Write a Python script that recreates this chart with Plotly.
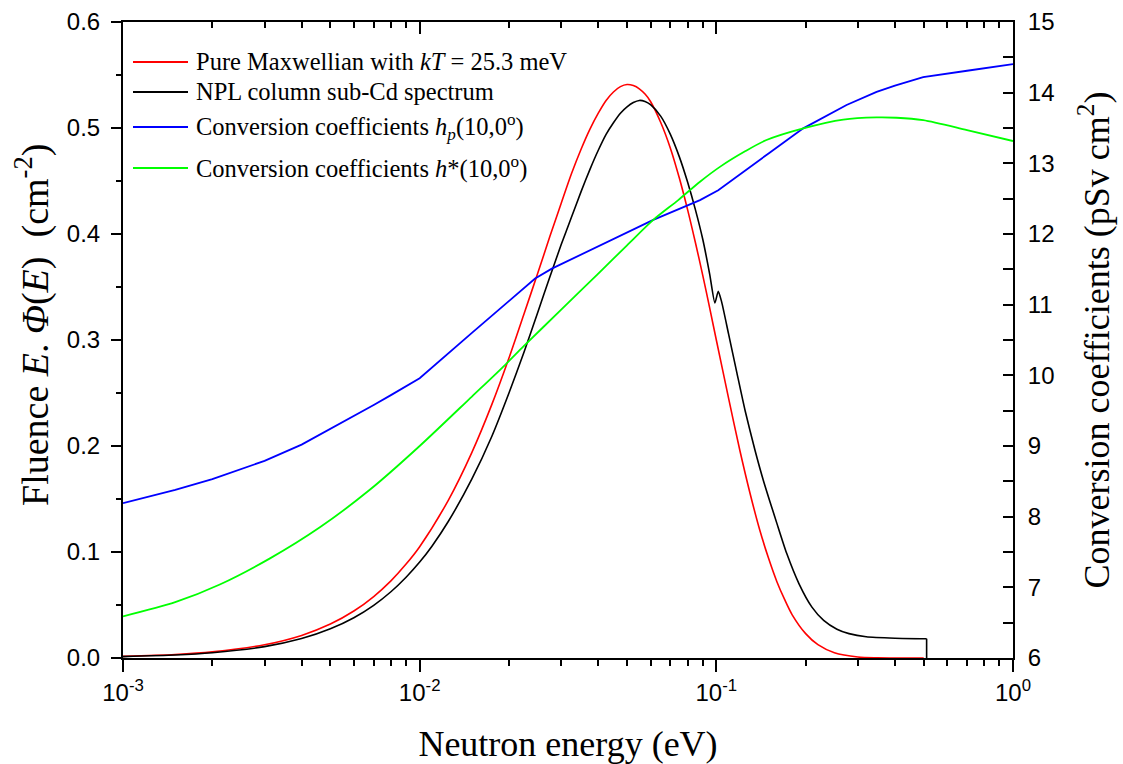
import plotly.graph_objects as go

# ---------------- data ----------------
energy_max = [0.001, 0.0015, 0.002, 0.003, 0.004, 0.005, 0.006, 0.007, 0.008, 0.009,
              0.01, 0.0125, 0.015, 0.0175, 0.02, 0.0225, 0.025, 0.0275, 0.03, 0.0325,
              0.035, 0.0375, 0.04, 0.0425, 0.045, 0.0475, 0.05, 0.0525, 0.055, 0.0575,
              0.06, 0.065, 0.07, 0.075, 0.08, 0.085, 0.09, 0.095, 0.1, 0.11,
              0.12, 0.13, 0.14, 0.15, 0.16, 0.17, 0.18, 0.2, 0.22, 0.25,
              0.3, 0.35, 0.4, 0.5]
fluence_max = [0.0015, 0.0033, 0.0058, 0.0125, 0.0213, 0.032, 0.0443, 0.058, 0.0728, 0.0886,
               0.105, 0.149, 0.194, 0.239, 0.283, 0.325, 0.363, 0.398, 0.429, 0.457,
               0.480, 0.499, 0.514, 0.526, 0.534, 0.539, 0.541, 0.540, 0.537, 0.532,
               0.525, 0.505, 0.481, 0.453, 0.423, 0.392, 0.361, 0.330, 0.300, 0.245,
               0.196, 0.155, 0.121, 0.094, 0.072, 0.055, 0.041, 0.023, 0.0126, 0.005,
               0.001, 0.0002, 0.0, 0.0]

energy_npl = [0.001, 0.0015, 0.002, 0.003, 0.004, 0.005, 0.006, 0.007, 0.008, 0.009,
              0.01, 0.011, 0.0125, 0.015, 0.0175, 0.02, 0.0225, 0.025, 0.0275, 0.03, 0.0325,
              0.035, 0.0375, 0.04, 0.0425, 0.045, 0.0475, 0.05, 0.0525, 0.055, 0.0575,
              0.06, 0.065, 0.07, 0.075, 0.08, 0.085, 0.09, 0.095, 0.0989, 0.1015,
              0.1042, 0.11, 0.1171, 0.125, 0.135, 0.1439, 0.16, 0.1725, 0.19, 0.21,
              0.23, 0.255, 0.28, 0.32, 0.4, 0.5115, 0.5115]
fluence_npl = [0.0013, 0.0028, 0.0050, 0.0107, 0.0183, 0.0275, 0.038, 0.0497, 0.0625, 0.0762,
               0.0905, 0.1055, 0.129, 0.169, 0.209, 0.250, 0.289, 0.326, 0.360, 0.390, 0.416,
               0.440, 0.461, 0.479, 0.494, 0.505, 0.514, 0.520, 0.524, 0.526, 0.525,
               0.522, 0.511, 0.494, 0.473, 0.449, 0.423, 0.395, 0.362, 0.335, 0.346,
               0.336, 0.3055, 0.270, 0.2335, 0.196, 0.168, 0.127, 0.099, 0.070, 0.048,
               0.0355, 0.0272, 0.0230, 0.0200, 0.0187, 0.0182, 0.0]

energy_hp = [0.001, 0.0015, 0.002, 0.003, 0.004, 0.005, 0.006, 0.007, 0.008, 0.01,
             0.015, 0.02, 0.0245, 0.0279, 0.035, 0.045, 0.0613, 0.0881, 0.1015, 0.15,
             0.1963, 0.2748, 0.3469, 0.4, 0.498, 0.7, 1.0]
coef_hp = [8.19, 8.38, 8.53, 8.79, 9.02, 9.24, 9.42, 9.58, 9.72, 9.96,
           10.60, 11.05, 11.37, 11.51, 11.71, 11.93, 12.20, 12.48, 12.62, 13.14,
           13.495, 13.825, 14.01, 14.10, 14.22, 14.31, 14.405]

energy_hs = [0.001, 0.0015, 0.00212, 0.00313, 0.00461, 0.00679, 0.01, 0.015, 0.01939, 0.02234,
             0.03, 0.04, 0.05, 0.0613, 0.0744, 0.0881, 0.1028, 0.125, 0.1476, 0.1963,
             0.2679, 0.3469, 0.405, 0.498, 0.7, 1.0]
coef_hs = [6.59, 6.79, 7.04, 7.41, 7.85, 8.38, 9.00, 9.70, 10.146, 10.405,
           10.93, 11.44, 11.84, 12.20, 12.48, 12.74, 12.95, 13.17, 13.33, 13.495,
           13.62, 13.65, 13.645, 13.61, 13.47, 13.316]

x_tick_vals = [0.001, 0.01, 0.1, 1.0]
x_tick_text = ["10<sup>-3</sup>", "10<sup>-2</sup>", "10<sup>-1</sup>", "10<sup>0</sup>"]

legend_labels = [
    "Pure Maxwellian with <i>kT</i> = 25.3 meV",
    "NPL column sub-Cd spectrum",
    "Conversion coefficients <i>h<sub>p</sub></i>(10,0<sup>o</sup>)",
    "Conversion coefficients <i>h</i>*(10,0<sup>o</sup>)",
]
legend_colors = ["#ff0000", "#000000", "#0000ff", "#00ff00"]

x_title = "Neutron energy (eV)"
y_title = "Fluence <i>E</i>. <i>Φ</i>(<i>E</i>) &nbsp;(cm<sup>-2</sup>)"
y2_title = "Conversion coefficients (pSv cm<sup>2</sup>)"

# ---------------- figure ----------------
x_minor = [m * 10 ** e for e in (-3, -2, -1) for m in range(2, 10)]

SERIF = "Liberation Serif, Times New Roman, serif"
SANS = "Liberation Sans, Arial, sans-serif"

fig = go.Figure()
fig.add_trace(go.Scatter(x=energy_max, y=fluence_max, mode="lines",
                         line=dict(color=legend_colors[0], width=1.6, shape="spline", smoothing=0.8),
                         xaxis="x", yaxis="y", name="Maxwellian"))
fig.add_trace(go.Scatter(x=energy_npl[:-1], y=fluence_npl[:-1], mode="lines",
                         line=dict(color=legend_colors[1], width=1.6, shape="spline", smoothing=0.6),
                         xaxis="x", yaxis="y", name="NPL"))
fig.add_trace(go.Scatter(x=energy_npl[-2:], y=fluence_npl[-2:], mode="lines",
                         line=dict(color=legend_colors[1], width=1.6),
                         xaxis="x", yaxis="y", showlegend=False, hoverinfo="skip"))
fig.add_trace(go.Scatter(x=energy_hp, y=coef_hp, mode="lines",
                         line=dict(color=legend_colors[2], width=1.8),
                         xaxis="x", yaxis="y2", name="hp"))
fig.add_trace(go.Scatter(x=energy_hs, y=coef_hs, mode="lines",
                         line=dict(color=legend_colors[3], width=1.8, shape="spline", smoothing=0.8),
                         xaxis="x", yaxis="y2", name="h*"))
# empty trace to activate the top mirror axis
fig.add_trace(go.Scatter(x=[None], y=[None], xaxis="x2", yaxis="y",
                         mode="lines", showlegend=False, hoverinfo="skip"))

axis_common = dict(showgrid=False, zeroline=False, showline=True, automargin=False,
                   linecolor="black", linewidth=2, tickcolor="black", tickwidth=2)

fig.update_layout(
    width=1123, height=764,
    margin=dict(l=123, r=110, t=22, b=106),
    paper_bgcolor="white", plot_bgcolor="white",
    showlegend=False,
    xaxis=dict(type="log", range=[-3, 0], tickmode="array",
               tickvals=x_tick_vals, ticktext=x_tick_text,
               ticks="outside", ticklen=12,
               tickfont=dict(family=SANS, size=24, color="black"),
               minor=dict(tickmode="array", tickvals=x_minor, ticks="outside",
                          ticklen=6, tickwidth=2, tickcolor="black", showgrid=False),
               title=dict(text=x_title,
                          font=dict(family=SERIF, size=36, color="black"),
                          standoff=26),
               **axis_common),
    xaxis2=dict(type="log", range=[-3, 0], overlaying="x", side="top",
                tickmode="array", tickvals=x_tick_vals, showticklabels=False,
                ticks="inside", ticklen=12,
                minor=dict(tickmode="array", tickvals=x_minor, ticks="inside",
                           ticklen=6, tickwidth=2, tickcolor="black", showgrid=False),
                **axis_common),
    yaxis=dict(range=[0, 0.6], tick0=0, dtick=0.1, tickformat=".1f",
               ticks="outside", ticklen=10, ticklabelstandoff=6,
               tickfont=dict(family=SANS, size=24, color="black"),
               minor=dict(dtick=0.05, ticks="outside", ticklen=5, tickwidth=2,
                          tickcolor="black", showgrid=False),
               **axis_common),
    yaxis2=dict(range=[6, 15], overlaying="y", side="right", tick0=6, dtick=1,
                ticks="inside", ticklen=10, ticklabelstandoff=8,
                tickfont=dict(family=SANS, size=24, color="black"),
                minor=dict(dtick=0.5, ticks="inside", ticklen=10, tickwidth=2,
                           tickcolor="black", showgrid=False),
                title=dict(text=y2_title,
                           font=dict(family=SERIF, size=36, color="black"),
                           standoff=30),
                **axis_common),
)

# pixel helpers (plot area in page pixels)
plot_l, plot_r, plot_t, plot_b = 123, 1013, 22, 658
def px_x(px):
    return (px - plot_l) / (plot_r - plot_l)
def px_y(py):
    return (plot_b - py) / (plot_b - plot_t)

# left axis title (placed as in the reference, a little above centre)
fig.add_annotation(xref="paper", yref="paper", x=px_x(33), y=px_y(325),
                   xanchor="center", yanchor="middle", textangle=-90, showarrow=False,
                   text=y_title, font=dict(family=SERIF, size=38, color="black"))

# manual legend (line samples + labels)
legend_rows_px = [62, 92, 127, 168]
for label, color, row in zip(legend_labels, legend_colors, legend_rows_px):
    fig.add_shape(type="line", xref="paper", yref="paper",
                  x0=px_x(133), x1=px_x(188), y0=px_y(row), y1=px_y(row),
                  line=dict(color=color, width=1.8))
    fig.add_annotation(xref="paper", yref="paper", x=px_x(194), y=px_y(row),
                       xanchor="left", yanchor="middle", showarrow=False,
                       text=label, font=dict(family=SERIF, size=24.5, color="black"))

fig.write_html("out.html")
